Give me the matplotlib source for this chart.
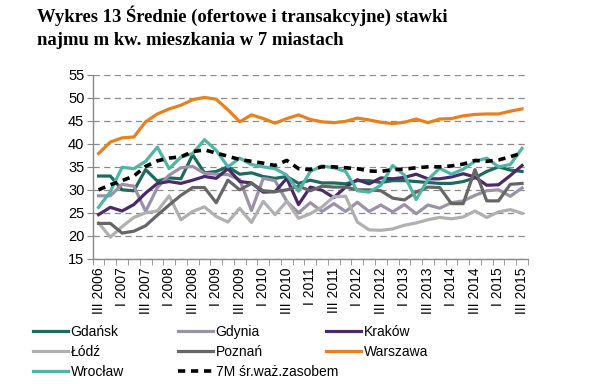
#!/usr/bin/env python3
"""Wykres 13: average rents per m2 in 7 cities."""
import matplotlib
matplotlib.use("Agg")
import matplotlib.pyplot as plt
import numpy as np

# quarters III 2006 .. III 2015
quarters = []
for year in range(2006, 2016):
    for q in ["I", "II", "III", "IV"]:
        quarters.append(f"{q} {year}")
quarters = quarters[2:-1]  # III 2006 ... III 2015 -> 37 quarters

gdansk = [33.0, 33.0, 30.0, 29.8, 34.4, 31.9, 32.6, 32.4, 37.6, 33.7, 34.0, 35.0, 33.4,
          33.7, 32.9, 32.5, 32.9, 31.4, 32.1, 31.5, 31.5, 31.3, 32.0, 32.0, 31.6, 32.0,
          32.0, 31.8, 31.6, 31.4, 31.4, 31.8, 32.6, 34.0, 35.0, 34.3, 34.0]
gdynia = [28.7, 28.7, 31.2, 30.8, 25.3, 30.5, 33.2, 34.8, 35.1, 33.6, 33.4, 33.3, 32.2,
          25.5, 32.5, 32.0, 27.5, 25.0, 27.2, 25.3, 27.0, 25.3, 27.3, 25.3, 26.7, 25.2,
          26.8, 24.8, 26.7, 26.0, 27.2, 27.6, 28.8, 29.8, 30.0, 28.6, 30.4]
krakow = [24.6, 26.2, 25.4, 26.8, 29.3, 31.4, 31.8, 31.4, 32.1, 32.9, 32.5, 34.6, 31.8,
          31.5, 29.5, 29.6, 32.5, 26.8, 30.6, 29.9, 28.3, 30.6, 32.2, 31.3, 32.6, 32.4,
          32.7, 33.4, 32.4, 32.4, 32.8, 33.5, 32.8, 31.0, 31.1, 33.1, 35.3]
lodz = [22.8, 19.7, 22.0, 24.0, 25.0, 25.4, 28.7, 23.5, 25.3, 26.3, 24.2, 23.0, 26.0,
        22.9, 27.5, 24.6, 27.5, 23.8, 24.8, 26.3, 28.5, 28.6, 23.0, 21.3, 21.2, 21.5,
        22.3, 22.8, 23.5, 24.0, 23.7, 24.1, 25.4, 24.0, 25.2, 25.7, 24.9]
poznan = [22.7, 22.7, 20.6, 21.0, 22.2, 24.5, 26.7, 28.8, 30.5, 30.5, 27.2, 32.1, 30.0,
          31.4, 29.8, 29.6, 30.0, 30.8, 29.8, 30.8, 30.6, 30.6, 30.0, 30.0, 29.8, 28.2,
          27.8, 29.5, 30.6, 30.5, 27.0, 27.0, 34.4, 27.6, 27.6, 31.2, 31.4]
warszawa = [37.9, 40.4, 41.3, 41.5, 44.8, 46.5, 47.6, 48.4, 49.6, 50.1, 49.7, 47.4, 44.8,
            46.3, 45.5, 44.5, 45.5, 46.3, 45.3, 44.8, 44.6, 44.9, 45.6, 45.2, 44.7, 44.4,
            44.7, 45.4, 44.6, 45.4, 45.5, 46.1, 46.4, 46.5, 46.5, 47.1, 47.6]
wroclaw = [26.2, 29.6, 34.9, 34.6, 36.2, 39.3, 34.6, 37.1, 37.9, 40.9, 38.6, 35.0, 36.9,
           35.5, 35.0, 34.6, 33.2, 29.7, 34.0, 35.2, 34.8, 34.0, 29.8, 29.5, 31.0, 35.3,
           33.2, 27.9, 32.2, 34.7, 33.4, 34.5, 36.2, 36.9, 35.0, 35.5, 39.0]
avg_7m = [30.0, 31.1, 32.0, 33.0, 35.1, 36.3, 36.9, 37.2, 38.3, 38.7, 38.0, 37.3, 36.6,
          36.2, 35.8, 35.3, 36.4, 34.6, 34.4, 35.0, 35.0, 34.8, 34.6, 34.1, 34.0, 34.4,
          34.5, 34.8, 35.0, 35.0, 35.2, 35.6, 36.4, 36.2, 36.5, 37.2, 38.0]

series = [
    ("Gdańsk", gdansk, "#1d6b5f"),
    ("Gdynia", gdynia, "#9c91a8"),
    ("Kraków", krakow, "#4a2a68"),
    ("Łódź", lodz, "#b0b0b0"),
    ("Poznań", poznan, "#666666"),
    ("Warszawa", warszawa, "#e8801e"),
    ("Wrocław", wroclaw, "#4fb5a5"),
]

plt.rcParams["font.family"] = ["Liberation Sans", "DejaVu Sans"]

fig = plt.figure(figsize=(6.11, 3.84), dpi=100)
ax = fig.add_axes([0.1517, 0.326, 0.7123, 0.479])

x = np.arange(len(quarters))
handles = {}
for name, vals, color in series:
    (h,) = ax.plot(x, vals, color=color, lw=2.3, label=name, solid_joinstyle="round")
    handles[name] = h
(h,) = ax.plot(x, avg_7m, color="black", lw=2.6, ls=(0, (2.0, 1.6)), label="7M śr.waż.zasobem")
handles["7M śr.waż.zasobem"] = h

ax.set_xlim(-0.5, len(quarters) - 0.5)
ax.set_ylim(15, 55)
ax.set_yticks(np.arange(15, 56, 5))
ax.yaxis.grid(True, color="#8a8a8a", ls=(0, (5, 3.5)), lw=0.9)
ax.set_axisbelow(True)

ax.set_xticks(x[::2])
ax.set_xticklabels(quarters[::2], rotation=90, fontsize=10)
ax.set_xticks(np.arange(-0.5, len(quarters), 1), minor=True)
ax.tick_params(axis="x", which="major", length=0, pad=6)
ax.tick_params(axis="x", which="minor", length=4, color="#888888", direction="out")
ax.tick_params(axis="y", length=4, color="#888888", labelsize=10.5, pad=2)
for s in ["top", "right"]:
    ax.spines[s].set_visible(False)
for s in ["left", "bottom"]:
    ax.spines[s].set_color("#888888")
    ax.spines[s].set_linewidth(1.0)

fig.text(0.06, 0.985,
         "Wykres 13 Średnie (ofertowe i transakcyjne) stawki\nnajmu m kw. mieszkania w 7 miastach",
         ha="left", va="top", fontsize=13.4, fontweight="bold",
         family=["Liberation Serif", "DejaVu Serif"], linespacing=1.45)

columns = [["Gdańsk", "Łódź", "Wrocław"],
           ["Gdynia", "Poznań", "7M śr.waż.zasobem"],
           ["Kraków", "Warszawa"]]
col_x = [33 / 611, 178 / 611, 326 / 611]
for names, cx in zip(columns, col_x):
    fig.legend([handles[n] for n in names], names, loc="upper left",
               bbox_to_anchor=(cx, 1 - 325 / 384), frameon=False, fontsize=10,
               handlelength=2.5, handletextpad=0.2, labelspacing=0.42,
               borderpad=0, borderaxespad=0)

fig.savefig("out.png", dpi=100)
